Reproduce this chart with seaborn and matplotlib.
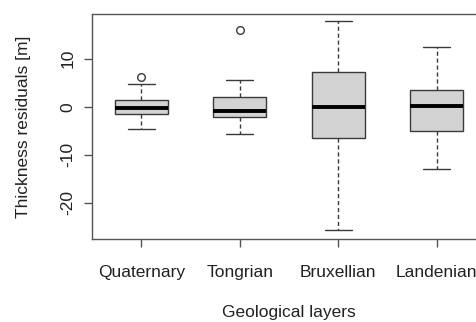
import numpy as np
import pandas as pd
import matplotlib
matplotlib.use("Agg")
import matplotlib.pyplot as plt
import seaborn as sns

# Thickness residuals [m] per geological layer
layers = ["Quaternary", "Tongrian", "Bruxellian", "Landenian"]
quaternary = [-4.7, -2.5, -1.6, -0.9, -0.35, 0.6, 1.4, 4.66, 6.1]
tongrian = [-5.7, -3.5, -2.2, -1.5, -1.0, 0.5, 2.0, 5.6, 15.9]
bruxellian = [-25.7, -6.45, 0.0, 7.2, 17.8]
landenian = [-12.9, -5.1, 0.15, 3.5, 12.4]
y_ticks = [-20, -10, 0, 10]

df = pd.DataFrame({
    "layer": np.repeat(layers, [len(quaternary), len(tongrian), len(bruxellian), len(landenian)]),
    "residual": quaternary + tongrian + bruxellian + landenian,
})

sns.set_theme(style="white")
plt.rcParams["font.family"] = ["Liberation Sans", "DejaVu Sans"]

fig = plt.figure(figsize=(4.76, 3.22), dpi=100)
ax = fig.add_axes([92 / 476, 1 - 239 / 322, (486 - 92) / 476, (239 - 14) / 322])

edge = "#3a3a3a"
sns.boxplot(
    data=df, x="layer", y="residual", order=layers, ax=ax,
    color="#d3d3d3", width=0.54, linecolor=edge, linewidth=1.0,
    saturation=1,
    whiskerprops=dict(linestyle=(0, (3, 2)), color=edge, linewidth=1.0),
    capprops=dict(color=edge, linewidth=1.0),
    medianprops=dict(color="black", linewidth=2.8),
    flierprops=dict(marker="o", markerfacecolor="none", markeredgecolor=edge,
                    markersize=5.5, markeredgewidth=1.0),
)

ax.set_xlim(-0.5, 3.5)
ax.set_ylim(-27.56, 19.31)
ax.set_yticks(y_ticks)
ax.set_yticklabels([str(v) for v in y_ticks], rotation=90, va="center")

for side in ["left", "top", "bottom", "right"]:
    ax.spines[side].set_visible(True)
    ax.spines[side].set_color("#555555")
    ax.spines[side].set_linewidth(1.0)

ax.tick_params(axis="both", which="major", direction="out", length=6, width=1.0,
               color="#555555", labelsize=12.5, labelcolor="#222222",
               left=True, bottom=True)
ax.tick_params(axis="x", pad=13)
ax.tick_params(axis="y", pad=6)

ax.set_xlabel("Geological layers", fontsize=12.5, color="#222222", labelpad=18)
ax.set_ylabel("Thickness residuals [m]", fontsize=12.5, color="#222222", labelpad=21)

fig.savefig("out.png", dpi=100)
